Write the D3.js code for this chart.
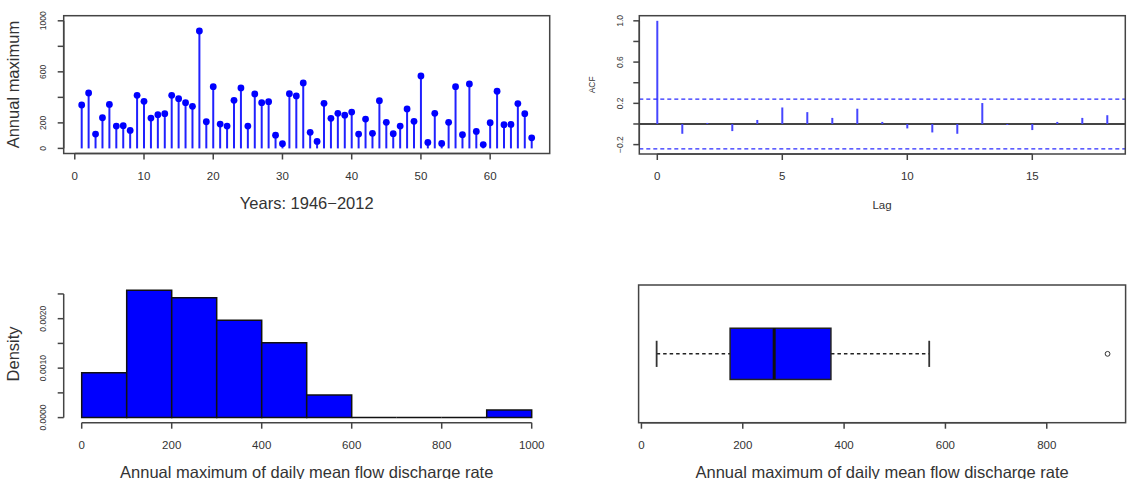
<!DOCTYPE html>
<html><head><meta charset="utf-8">
<script src="https://cdn.jsdelivr.net/npm/d3@7"></script>
<style>body{margin:0;background:#fff}svg{display:block;font-family:"Liberation Sans",Arial,sans-serif}</style>
</head><body><svg id="c" width="1137" height="479"></svg>
<script>
// ---- data ----
const yearIndex = d3.range(1, 67);
const annualMax = [340,434,112,240,345,175,178,141,416,369,
                   238,264,272,416,390,358,330,920,209,484,
                   191,175,377,474,175,427,358,366,104,37,
                   429,411,513,126,55,353,236,275,260,285,
                   112,230,118,374,204,115,175,309,212,568,
                   47,275,39,204,484,107,505,133,30,201,
                   448,186,188,351,272,83];
const acfLags = d3.range(0, 19);
const acfValues = [1.0,-0.095,0.01,-0.069,0.039,0.16,0.115,0.059,0.148,0.02,
                   -0.043,-0.082,-0.095,0.203,-0.01,-0.059,0.02,0.059,0.085];
const acfCI = 0.2413;
const tsYTicks = [0,200,400,600,800,1000];
const tsYLabels = [0,200,600,1000];
const tsXTicks = [0,10,20,30,40,50,60];
const acfYTicks = [-0.2,0,0.2,0.4,0.6,0.8,1.0];
const acfYLabels = [-0.2,0.2,0.6,1.0];
const acfXTicks = [0,5,10,15];
const histBreaks = [0,100,200,300,400,500,600,700,800,900,1000];
const histYTicks = [0,0.0005,0.001,0.0015,0.002,0.0025];
const histYLabels = [0,0.001,0.002];
const histXTicks = [0,200,400,600,800,1000];
const boxXTicks = [0,200,400,600,800];
const xTitle = "Annual maximum of daily mean flow discharge rate";

// ---- helpers ----
const svg = d3.select("#c");
const AX = "#444", TXT = "#333";
const minus = s => String(s).replace("-", "\u2212");

function frame(r){
  svg.append("rect").attr("x", r.x0).attr("y", r.y0)
    .attr("width", r.x1 - r.x0).attr("height", r.y1 - r.y0)
    .attr("fill", "none").attr("stroke", AX).attr("stroke-width", 1.5);
}
function xAxis(scale, y, ticks, fmt, labY, fs){
  const g = svg.append("g");
  g.append("line").attr("x1", scale(ticks[0])).attr("x2", scale(ticks[ticks.length-1]))
    .attr("y1", y).attr("y2", y).attr("stroke", AX).attr("stroke-width", 1.5);
  g.selectAll("line.t").data(ticks).join("line").attr("class","t")
    .attr("x1", d => scale(d)).attr("x2", d => scale(d))
    .attr("y1", y).attr("y2", y + 6).attr("stroke", AX).attr("stroke-width", 1.5);
  g.selectAll("text").data(ticks).join("text")
    .attr("x", d => scale(d)).attr("y", labY).attr("text-anchor","middle")
    .attr("dominant-baseline","central").attr("font-size", fs).attr("fill", TXT)
    .text(fmt);
}
function yAxis(scale, x, ticks, labels, fmt, labX, fs){
  const g = svg.append("g");
  g.append("line").attr("y1", scale(ticks[0])).attr("y2", scale(ticks[ticks.length-1]))
    .attr("x1", x).attr("x2", x).attr("stroke", AX).attr("stroke-width", 1.5);
  g.selectAll("line.t").data(ticks).join("line").attr("class","t")
    .attr("y1", d => scale(d)).attr("y2", d => scale(d))
    .attr("x1", x).attr("x2", x - 6).attr("stroke", AX).attr("stroke-width", 1.5);
  g.selectAll("text").data(labels).join("text")
    .attr("transform", d => `translate(${labX},${scale(d)}) rotate(-90)`)
    .attr("text-anchor","middle").attr("dominant-baseline","central")
    .attr("font-size", fs).attr("fill", TXT).text(fmt);
}
function title(x, y, txt, fs, rot){
  svg.append("text").attr("transform", `translate(${x},${y})` + (rot ? " rotate(-90)" : ""))
    .attr("text-anchor","middle").attr("dominant-baseline","central")
    .attr("font-size", fs).attr("fill", TXT).text(txt);
}

// ---- panel 1: annual maxima (lollipop) ----
{
  const r = {x0: 63.7, x1: 549.7, y0: 15.7, y1: 153.5};
  const x = d3.scaleLinear().domain([1 - 0.04*65, 66 + 0.04*65]).range([r.x0, r.x1]);
  const y = d3.scaleLinear().domain([-40, 1040]).range([r.y1, r.y0]);
  const data = yearIndex.map((d, i) => ({i: d, v: annualMax[i]}));
  svg.append("g").selectAll("line").data(data).join("line")
    .attr("x1", d => x(d.i)).attr("x2", d => x(d.i))
    .attr("y1", y(0)).attr("y2", d => y(d.v))
    .attr("stroke", "#2020ff").attr("stroke-width", 2);
  svg.append("g").selectAll("circle").data(data).join("circle")
    .attr("cx", d => x(d.i)).attr("cy", d => y(d.v)).attr("r", 3.4)
    .attr("fill", "#0000ff");
  frame(r);
  xAxis(x, r.y1, tsXTicks, d => d, 175.5, 11.5);
  yAxis(y, r.x0, tsYTicks, tsYLabels, d => d, 43.3, 8.5);
  title((r.x0 + r.x1)/2, 202.5, "Years: 1946\u22122012", 16.5, false);
  title(13, (r.y0 + r.y1)/2, "Annual maximum", 16.5, true);
}

// ---- panel 2: ACF ----
{
  const r = {x0: 639.3, x1: 1125.3, y0: 15.7, y1: 154};
  const x = d3.scaleLinear().domain([-0.72, 18.72]).range([r.x0, r.x1]);
  const y = d3.scaleLinear().domain([-0.291, 1.0497]).range([r.y1, r.y0]);
  svg.append("line").attr("x1", r.x0).attr("x2", r.x1).attr("y1", y(0)).attr("y2", y(0))
    .attr("stroke", "#444").attr("stroke-width", 1.8);
  svg.append("g").selectAll("line").data(acfLags).join("line")
    .attr("x1", d => x(d)).attr("x2", d => x(d))
    .attr("y1", y(0)).attr("y2", (d, i) => y(acfValues[i]))
    .attr("stroke", "#4646ff").attr("stroke-width", 2);
  [acfCI, -acfCI].forEach(c => {
    svg.append("line").attr("x1", r.x0).attr("x2", r.x1).attr("y1", y(c)).attr("y2", y(c))
      .attr("stroke", "#2a2aff").attr("stroke-width", 1.4).attr("stroke-dasharray", "4,3");
  });
  frame(r);
  xAxis(x, r.y1, acfXTicks, d => d, 175.7, 11.5);
  yAxis(y, r.x0, acfYTicks, acfYLabels, d => minus(d.toFixed(1)), 619.5, 8.5);
  title(882, 205, "Lag", 11.5, false);
  title(592, (r.y0 + r.y1)/2, "ACF", 8.5, true);
}

// ---- panel 3: histogram ----
{
  const r = {x0: 63.7, x1: 549.7, y0: 285.1, y1: 422.7};
  const bins = d3.bin().domain([histBreaks[0], histBreaks[histBreaks.length-1]])
    .thresholds(histBreaks.slice(1, -1))(annualMax);
  const n = annualMax.length;
  const dens = bins.map(b => ({x0: b.x0, x1: b.x1, d: b.length / (n * (b.x1 - b.x0))}));
  const maxD = d3.max(dens, d => d.d);
  const x = d3.scaleLinear().domain([-40, 1040]).range([r.x0, r.x1]);
  const y = d3.scaleLinear().domain([-0.04*maxD, 1.04*maxD]).range([r.y1, r.y0]);
  svg.append("g").selectAll("path").data(dens).join("path")
    .attr("d", d => `M${x(d.x0)},${y(0)}V${y(d.d)}H${x(d.x1)}V${y(0)}Z`)
    .attr("fill", "#0000ff").attr("stroke", "#111").attr("stroke-width", 1.5);
  xAxis(x, r.y1, histXTicks, d => d, 445, 11.5);
  yAxis(y, r.x0, histYTicks, histYLabels, d => d.toFixed(4), 43.3, 8.5);
  title((r.x0 + r.x1)/2, 471.5, xTitle, 16.5, false);
  title(13.3, (r.y0 + r.y1)/2, "Density", 16.5, true);
}

// ---- panel 4: boxplot ----
{
  const r = {x0: 638.6, x1: 1125.6, y0: 285, y1: 422.7};
  const s = annualMax.slice().sort(d3.ascending);
  const n = s.length;
  const n4 = Math.floor((n + 3) / 2) / 2;
  const idx = [1, n4, (n + 1) / 2, n + 1 - n4, n];
  const five = idx.map(d => 0.5 * (s[Math.floor(d) - 1] + s[Math.ceil(d) - 1]));
  const iqr = five[3] - five[1];
  const lo = d3.min(s.filter(v => v >= five[1] - 1.5 * iqr));
  const hi = d3.max(s.filter(v => v <= five[3] + 1.5 * iqr));
  const outs = s.filter(v => v < lo || v > hi);
  const ext = [d3.min([lo, ...outs]), d3.max([hi, ...outs])];
  const pad = 0.04 * (ext[1] - ext[0]);
  const x = d3.scaleLinear().domain([ext[0] - pad, ext[1] + pad]).range([r.x0, r.x1]);
  const y = d3.scaleLinear().domain([0.5, 1.5]).range([r.y1, r.y0]);
  const bw = 0.186, cw = 0.095;
  const g = svg.append("g");
  [[lo, five[1]], [five[3], hi]].forEach(p => {
    g.append("line").attr("x1", x(p[0])).attr("x2", x(p[1])).attr("y1", y(1)).attr("y2", y(1))
      .attr("stroke", "#222").attr("stroke-width", 1.5).attr("stroke-dasharray", "3.5,3");
  });
  [lo, hi].forEach(v => {
    g.append("line").attr("x1", x(v)).attr("x2", x(v)).attr("y1", y(1 - cw)).attr("y2", y(1 + cw))
      .attr("stroke", "#333").attr("stroke-width", 1.8);
  });
  g.append("rect").attr("x", x(five[1])).attr("width", x(five[3]) - x(five[1]))
    .attr("y", y(1 + bw)).attr("height", y(1 - bw) - y(1 + bw))
    .attr("fill", "#0000ff").attr("stroke", "#222").attr("stroke-width", 1.5);
  g.append("line").attr("x1", x(five[2])).attr("x2", x(five[2]))
    .attr("y1", y(1 + bw)).attr("y2", y(1 - bw)).attr("stroke", "#111").attr("stroke-width", 3);
  g.selectAll("circle").data(outs).join("circle")
    .attr("cx", d => x(d)).attr("cy", y(1)).attr("r", 2.4)
    .attr("fill", "none").attr("stroke", "#333").attr("stroke-width", 1);
  frame(r);
  xAxis(x, r.y1, boxXTicks, d => d, 445, 11.5);
  title((r.x0 + r.x1)/2, 471.5, xTitle, 16.5, false);
}
</script></body></html>
